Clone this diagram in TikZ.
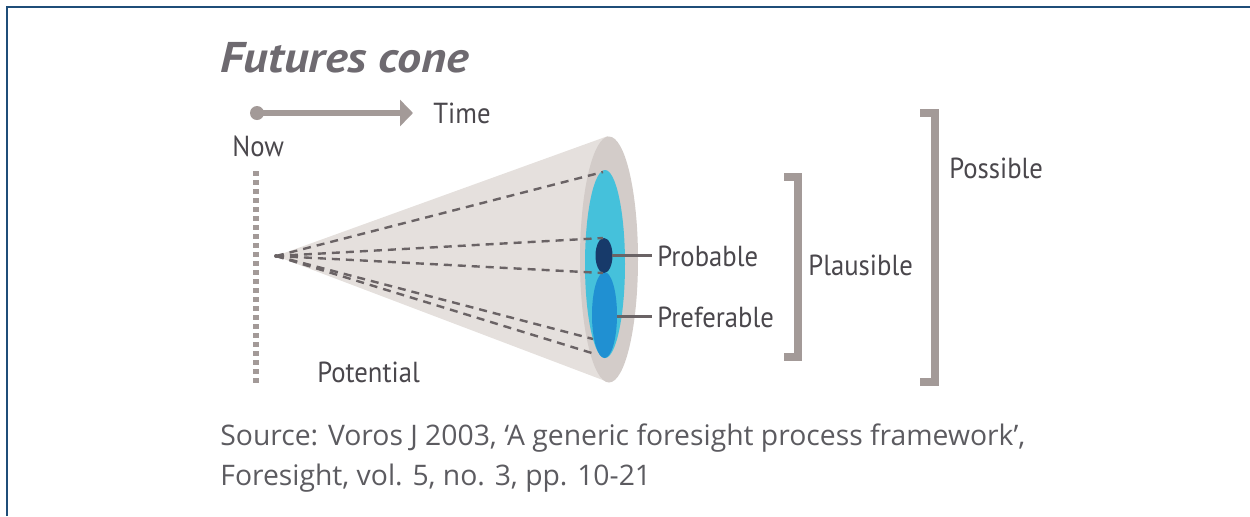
\documentclass[tikz,border=0pt]{standalone}
\usepackage{fontspec}
\setmainfont{PT Sans}
\newfontfamily\tagfont[FakeStretch=0.92]{PT Sans}
\newfontfamily\titlefont[FakeStretch=1.12]{PT Sans}
\newfontfamily\srcfont{Open Sans}
\usepackage{xcolor}
\usetikzlibrary{arrows.meta}

\definecolor{framecol}{HTML}{1F4E79}
\definecolor{conecol}{HTML}{E5E0DD}
\definecolor{rimcol}{HTML}{D3CCC9}
\definecolor{plausiblecol}{HTML}{45C1DB}
\definecolor{preferablecol}{HTML}{2090D2}
\definecolor{probablecol}{HTML}{173A6A}
\definecolor{raycol}{HTML}{6A6365}
\definecolor{markcol}{HTML}{A39A98}
\definecolor{textcol}{HTML}{4A474C}
\definecolor{titlecol}{HTML}{6E6A70}
\definecolor{srccol}{HTML}{5C5B60}

\begin{document}
\begin{tikzpicture}[x=0.5pt,y=-0.5pt,
    tag/.style={anchor=base west,inner sep=0pt,text=textcol,font=\tagfont\fontsize{14.5}{17}\selectfont},
    srctag/.style={anchor=base west,inner sep=0pt,text=srccol,font=\srcfont\fontsize{14.15}{20}\selectfont},
    ray/.style={raycol,line width=1.2pt,dash pattern=on 4pt off 3pt},
    lead/.style={raycol,line width=1.1pt,shorten >=2.5pt},
    bracket/.style={markcol,line width=4pt}]
        \useasboundingbox (0,0) rectangle (1250,516);
        \draw[framecol,line width=0.6pt] (7,516) -- (7,7) -- (1250,7);
        \node[anchor=base west,inner sep=0pt,text=titlecol,font=\titlefont\fontsize{21.5}{24}\selectfont\bfseries\itshape] (title) at (220,72) {Futures cone};

        % time axis
        \coordinate (start) at (257,113);
        \coordinate (later) at (413,113);
        \fill[markcol] (start) circle[radius=3.5pt];
        \draw[markcol,line width=3.2pt,-{Triangle[length=6.5pt,width=13pt]}] (start) -- (later);
        \node[tag] (time) at (433,123) {Time};
        \node[tag] (now) at (232,156.5) {Now};
        \draw[markcol,line width=2.6pt,dash pattern=on 2.6pt off 1.9pt] (256,171) -- (256,383);

        % cone
        \coordinate (tip) at (276,256);
        \fill[conecol] (tip) -- (608,136) -- (608,382) -- cycle;
        \fill[rimcol] (609,259.5) circle[x radius=29,y radius=123];
        \fill[plausiblecol] (605,264) circle[x radius=20,y radius=94];
        \fill[preferablecol] (604.5,315) circle[x radius=12.5,y radius=43];
        \fill[probablecol] (604,255.5) circle[x radius=8.5,y radius=17.5];
        \fill[raycol] (tip) circle[radius=1pt];
        \foreach \y/\x in {172/603,238/603,273/603,339/593,354/595}
          \draw[ray] (tip) -- (\x,\y);

        % labels
        \node[tag] (probable) at (657,266) {Probable};
        \node[tag] (preferable) at (657,327) {Preferable};
        \coordinate (probdot) at (612,255.5);
        \coordinate (prefdot) at (617,316.5);
        \draw[lead] (probdot) -- (probdot -| probable.west);
        \draw[lead] (prefdot) -- (prefdot -| preferable.west);
        \node[tag] (plausible) at (808,275) {Plausible};
        \node[tag] (possible) at (949,178) {Possible};
        \node[tag] (potential) at (317,382) {Potential};
        \draw[bracket] (784,176.5) -- (798,176.5) -- (798,356.5) -- (784,356.5);
        \draw[bracket] (920,113) -- (934.5,113) -- (934.5,382) -- (920,382);

        \node[srctag] (source) at (220,445) {Source: Voros J 2003, ‘A generic foresight process framework’,};
        \node[srctag] (journal) at (220,485) {Foresight, vol. 5, no. 3, pp. 10-21};
\end{tikzpicture}
\end{document}
